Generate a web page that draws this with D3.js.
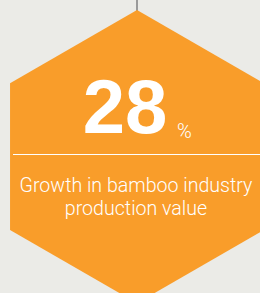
<!DOCTYPE html>
<html>
<head>
<meta charset="utf-8">
<script src="https://cdn.jsdelivr.net/npm/d3@7"></script>
<style>
  html, body { margin: 0; padding: 0; background: #ebebe7; }
  svg { display: block; }
</style>
</head>
<body>
<div class="forshow"></div>
<script>
var stat = [28]
var unit = ["%"]
var labelLines = ["Growth in bamboo industry", "production value"]

var width = 260, height = 293
var cx = 137, hexTop = 10, radius = 146.6

var svg = d3.select(".forshow").append("svg")
	.attr("width", width)
	.attr("height", height)

svg.append("rect")
	.attr("width", width)
	.attr("height", height)
	.attr("fill", "#ebebe7")

// hanging string
svg.append("line")
	.attr("x1", cx).attr("x2", cx)
	.attr("y1", 0).attr("y2", hexTop + 1)
	.attr("stroke", "#9a9a9a")
	.attr("stroke-width", 2)

// pointy-top hexagon
var cy = hexTop + radius
var corners = d3.range(6).map(function(i) {
	var a = (-90 + i * 60) * Math.PI / 180
	return [cx + radius * Math.cos(a), cy + radius * Math.sin(a)]
})

svg.append("path")
	.attr("d", d3.line().curve(d3.curveLinearClosed)(corners))
	.attr("fill", "#f99d2a")

svg.append("text")
	.attr("x", cx - 12)
	.attr("y", 133)
	.attr("text-anchor", "middle")
	.attr("fill", "#fff")
	.attr("font-family", "'Liberation Sans', Arial, sans-serif")
	.attr("font-weight", "bold")
	.attr("font-size", 76)
	.text(stat[0])

svg.append("text")
	.attr("x", 177)
	.attr("y", 138)
	.attr("fill", "#fff")
	.attr("font-family", "Roboto, 'Liberation Sans', sans-serif")
	.attr("font-weight", 300)
	.attr("font-size", 20)
	.text(unit[0])

svg.append("line")
	.attr("x1", 13).attr("x2", width)
	.attr("y1", 154.5).attr("y2", 154.5)
	.attr("stroke", "#fff")
	.attr("stroke-width", 1.2)

svg.selectAll("text.label")
	.data(labelLines)
	.enter()
	.append("text")
	.attr("class", "label")
	.attr("x", cx - 1)
	.attr("y", function(d, i) { return 192 + i * 23 })
	.attr("text-anchor", "middle")
	.attr("fill", "#fff")
	.attr("font-family", "Roboto, 'Liberation Sans', sans-serif")
	.attr("font-weight", 300)
	.attr("font-size", 19.6)
	.text(function(d) { return d })
</script>
</body>
</html>
